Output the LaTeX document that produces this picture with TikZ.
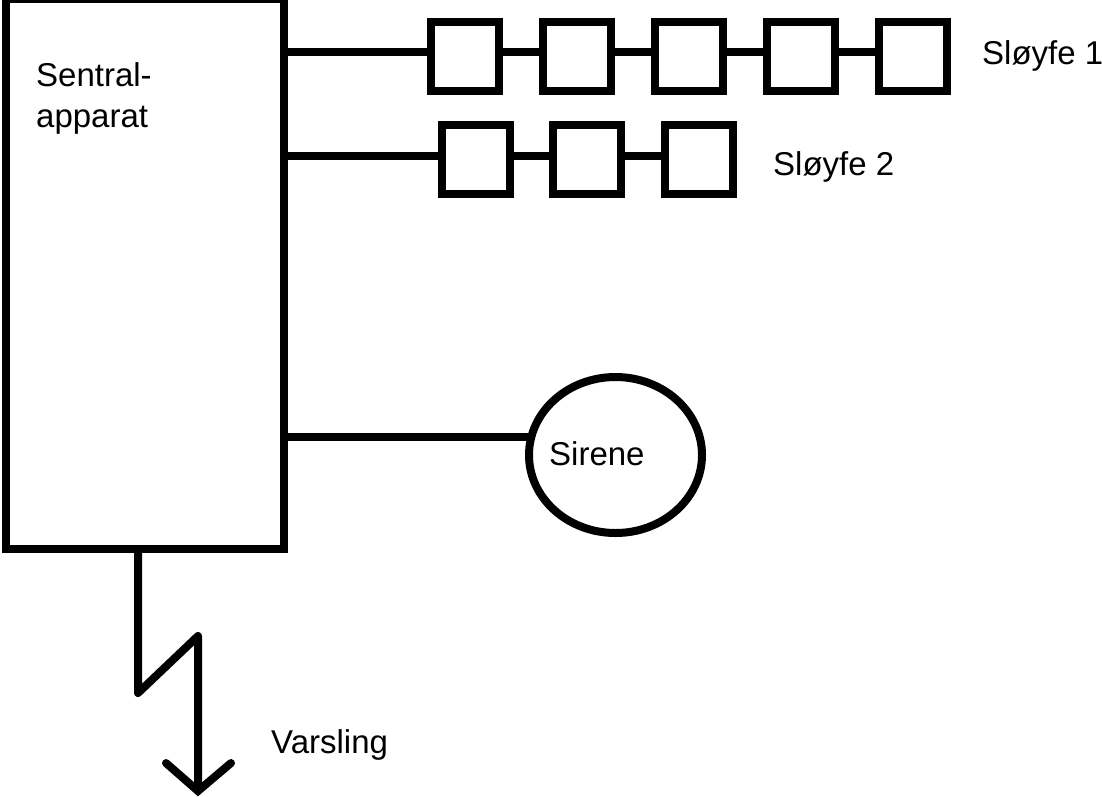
\documentclass[tikz,border=0pt]{standalone}
\usepackage{fontspec}
\usetikzlibrary{shapes.geometric}
\setmainfont{Liberation Sans}
\begin{document}
\begin{tikzpicture}[x=1pt,y=-1pt,
  ln/.style={line width=8pt,draw=black},
  boxn/.style={ln,rectangle,minimum width=68pt,minimum height=68.5pt,inner sep=0pt,outer sep=0pt,fill=white},
  lab/.style={font=\fontsize{33}{41}\selectfont,inner sep=0pt,anchor=west,align=left}]
\useasboundingbox (0,0) rectangle (1102,796);
\node[ln,rectangle,inner sep=0pt,outer sep=0pt,minimum width=277.5pt,minimum height=550pt] (central) at (144.75,274) {};
\node[lab,text width=150pt] (ct) at (36,98) {Sentral-\\apparat};
\foreach \n/\x in {a1/465,a2/577,a3/689,a4/801,a5/913}{\node[boxn] (\n) at (\x,56.5) {};}
\foreach \n/\x in {b1/475.5,b2/587,b3/698.5}{\node[boxn] (\n) at (\x,159.5) {};}
\coordinate (ca) at (central.east |- 0,51.5);
\coordinate (cb) at (central.east |- 0,156);
\coordinate (cc) at (central.east |- 0,436.5);
\draw[ln] (ca) -- (a1.west |- ca);
\draw[ln] (cb) -- (b1.west |- cb);
\draw[ln] (a1.east |- ca) -- (a2.west |- ca);
\draw[ln] (a2.east |- ca) -- (a3.west |- ca);
\draw[ln] (a3.east |- ca) -- (a4.west |- ca);
\draw[ln] (a4.east |- ca) -- (a5.west |- ca);
\draw[ln] (b1.east |- cb) -- (b2.west |- cb);
\draw[ln] (b2.east |- cb) -- (b3.west |- cb);
\node[lab] (s1) at (982,56) {Sløyfe 1};
\node[lab] (s2) at (773,167) {Sløyfe 2};
\node[ln,ellipse,inner sep=0pt,outer sep=0pt,minimum width=173pt,minimum height=156pt] (sir) at (615.5,455) {};
\node[lab] (st) at (549,454) {Sirene};
\draw[ln] (cc) -- (sir.west |- cc);
\coordinate (z0) at (138,550);
\coordinate (z1) at (138,693);
\coordinate (z2) at (198,636);
\coordinate (z3) at (198,791);
\coordinate (hl) at (166,763);
\coordinate (hr) at (231,763);
\draw[ln,line join=round] (z0) -- (z1) -- (z2) -- (z3);
\draw[ln,line cap=round,line join=miter] (hl) -- (z3) -- (hr);
\node[lab] (v) at (271,745) {Varsling};
\end{tikzpicture}
\end{document}
